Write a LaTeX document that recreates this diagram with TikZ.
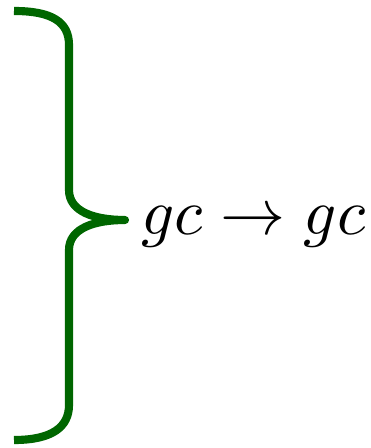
\documentclass[tikz,border=0pt]{standalone}
\usepackage{amsmath}
\usepackage{tikz}

\begin{document}
\begin{tikzpicture}[x=0.1538pt, y=-0.1538pt,
  brace/.style={draw=green!40!black, line width=1.25pt, line join=round},
  expr/.style={inner sep=0pt, anchor=base west}]
  \useasboundingbox (0,0) rectangle (371,448);

  \coordinate (top) at (14,11);
  \coordinate (tip) at (125,220);
  \coordinate (bot) at (14,440);
  \node[expr] (proc) at (140,235) {\(gc \to gc\)};

  \draw[brace] (top) .. controls (52,11) and (69,22) .. (69,45)
    -- (69,190) .. controls (69,212) and (95,220) .. (tip)
    .. controls (95,220) and (69,228) .. (69,250)
    -- (69,405) .. controls (69,427) and (52,440) .. (bot);
\end{tikzpicture}
\end{document}
